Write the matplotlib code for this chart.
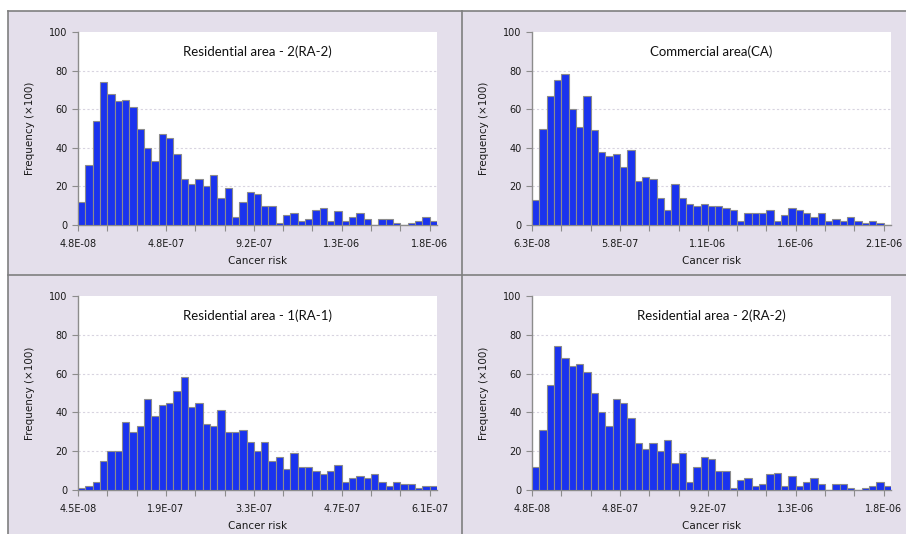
import matplotlib.pyplot as plt
from matplotlib.lines import Line2D
from matplotlib.patches import Rectangle
import numpy as np

# bar heights (frequency x100), 49 bins each
ra2 = [12, 31, 54, 74, 68, 64, 65, 61, 50, 40, 33, 47, 45, 37, 24, 21, 24, 20, 26, 14,
       19, 4, 12, 17, 16, 10, 10, 1, 5, 6, 2, 3, 8, 9, 2, 7, 2, 4, 6, 3,
       0, 3, 3, 1, 0, 1, 2, 4, 2]
ca = [13, 50, 67, 75, 78, 60, 51, 67, 49, 38, 36, 37, 30, 39, 23, 25, 24, 14, 8, 21,
      14, 11, 10, 11, 10, 10, 9, 8, 2, 6, 6, 6, 8, 2, 5, 9, 8, 6, 4, 6,
      2, 3, 2, 4, 2, 1, 2, 1, 0]
ra1 = [1, 2, 4, 15, 20, 20, 35, 30, 33, 47, 38, 44, 45, 51, 58, 43, 45, 34, 33, 41,
       30, 30, 31, 25, 20, 25, 15, 17, 11, 19, 12, 12, 10, 8, 10, 13, 4, 6, 7, 6,
       8, 4, 2, 4, 3, 3, 1, 2, 2]

ra2_labels = ['4.8E-08', '4.8E-07', '9.2E-07', '1.3E-06', '1.8E-06']
ca_labels = ['6.3E-08', '5.8E-07', '1.1E-06', '1.6E-06', '2.1E-06']
ra1_labels = ['4.5E-08', '1.9E-07', '3.3E-07', '4.7E-07', '6.1E-07']

titles = ['Residential area - 2(RA-2)', 'Commercial area(CA)',
          'Residential area - 1(RA-1)', 'Residential area - 2(RA-2)']

lavender = '#e4dfeb'
W, H = 906, 534

fig = plt.figure(figsize=(9.06, 5.34), dpi=100, facecolor='white')
fig.add_artist(Rectangle((8 / W, 0), 1, 1 - 11 / H, transform=fig.transFigure,
                         facecolor=lavender, edgecolor='none', zorder=-10))
border = '#7f7f7f'
for xs, ys in [((8 / W, 1), (1 - 11 / H, 1 - 11 / H)),
               ((8 / W, 8 / W), (0, 1 - 11 / H)),
               ((462 / W, 462 / W), (0, 1 - 11 / H)),
               ((8 / W, 1), (1 - 275 / H, 1 - 275 / H))]:
    fig.add_artist(Line2D(xs, ys, color=border, lw=1.2, transform=fig.transFigure))


def panel(rect, data, labels, title):
    ax = fig.add_axes(rect)
    ax.set_facecolor('white')
    x = np.arange(len(data)) + 0.5
    ax.bar(x, data, width=1.0, color='#1a33ee', edgecolor='#8c8c8c', linewidth=0.8, zorder=3)
    ax.set_xlim(0, 49)
    ax.set_ylim(0, 100)
    ax.set_yticks(np.arange(0, 101, 20))
    ax.set_xticks(np.arange(0, 49, 4))
    ax.set_xticklabels([labels[i // 12] if i % 12 == 0 else '' for i in range(0, 49, 4)])
    for y in [20, 40, 60, 80]:
        ax.axhline(y, color='#d8d4e0', lw=0.8, ls=(0, (2, 2)), zorder=1)
    for s in ['top', 'right']:
        ax.spines[s].set_visible(False)
    for s in ['left', 'bottom']:
        ax.spines[s].set_color('#8c8c8c')
        ax.spines[s].set_linewidth(1.0)
    ax.tick_params(axis='both', colors='#8c8c8c', labelcolor='#1a1a1a', labelsize=7, length=4)
    ax.tick_params(axis='x', pad=6)
    ax.set_xlabel('Cancer risk', fontsize=7.5, color='#1a1a1a', labelpad=5)
    ax.set_ylabel('Frequency (×100)', fontsize=7.5, color='#1a1a1a', labelpad=10)
    ax.text(0.5, 0.9, title, transform=ax.transAxes, ha='center', va='center',
            fontsize=9.5, family='Lato', color='#111111')
    return ax


w = 359 / W
h = 193 / H
panel([78 / W, 1 - 225 / H, w, h], ra2, ra2_labels, titles[0])
panel([532 / W, 1 - 225 / H, w, h], ca, ca_labels, titles[1])
panel([78 / W, 1 - 490 / H, w, 194 / H], ra1, ra1_labels, titles[2])
panel([532 / W, 1 - 490 / H, w, 194 / H], ra2, ra2_labels, titles[3])

fig.savefig('out.png', dpi=100, facecolor=fig.get_facecolor())
